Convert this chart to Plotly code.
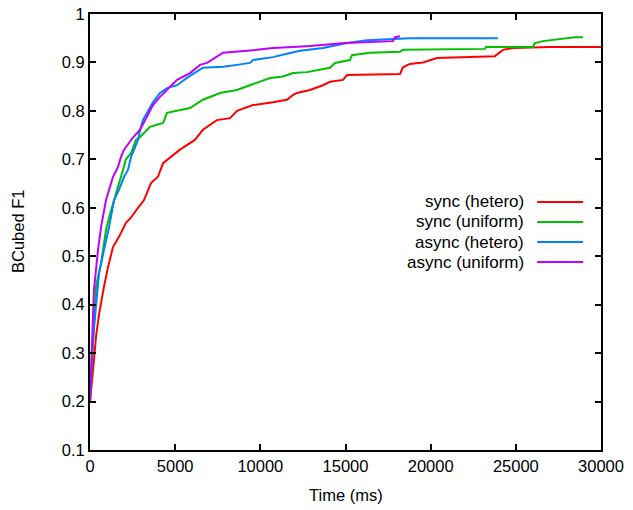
import plotly.graph_objects as go

# ---- data (time in ms, BCubed F1) ----
sync_hetero_t = [0, 60, 180, 350, 530, 820, 1060, 1350, 1700, 2110, 2410, 2820, 3170, 3580,
                 3990, 4290, 4700, 5280, 6160, 6630, 7450, 8220, 8630, 9570, 10740, 11560,
                 11920, 12150, 12910, 13680, 14090, 14850, 15090, 18200, 18370, 18780, 19550,
                 20370, 23770, 24070, 24240, 24830, 27000, 30000]
sync_hetero_f1 = [0.20, 0.22, 0.265, 0.333, 0.38, 0.437, 0.478, 0.519, 0.54, 0.569, 0.58, 0.60,
                  0.616, 0.651, 0.664, 0.692, 0.703, 0.72, 0.74, 0.761, 0.781, 0.785, 0.80,
                  0.812, 0.818, 0.823, 0.833, 0.837, 0.843, 0.853, 0.86, 0.864, 0.874, 0.876,
                  0.89, 0.897, 0.90, 0.909, 0.913, 0.922, 0.926, 0.93, 0.932, 0.932]

sync_uniform_t = [0, 180, 350, 650, 940, 1120, 1350, 1640, 1820, 2110, 2410, 2700, 2940, 3520,
                  4290, 4520, 5870, 6630, 7630, 8630, 9390, 9980, 10570, 11330, 11920, 12740,
                  14090, 14380, 15260, 15380, 16440, 18200, 18370, 23190, 23250, 26000, 26120,
                  26590, 28470, 28940]
sync_uniform_f1 = [0.20, 0.33, 0.437, 0.486, 0.554, 0.58, 0.61, 0.643, 0.664, 0.70, 0.713, 0.74,
                   0.746, 0.767, 0.775, 0.796, 0.806, 0.823, 0.837, 0.843, 0.853, 0.86, 0.868,
                   0.871, 0.878, 0.88, 0.889, 0.899, 0.905, 0.915, 0.92, 0.922, 0.926, 0.928,
                   0.932, 0.932, 0.94, 0.944, 0.952, 0.952]

async_hetero_t = [0, 120, 230, 410, 530, 820, 1120, 1410, 1700, 2000, 2230, 2410, 2580, 2820,
                  2940, 3110, 3350, 3700, 4110, 4520, 5110, 5690, 6630, 7810, 8630, 9390, 9570,
                  10740, 11560, 12330, 13680, 15090, 16260, 18200, 18780, 23950]
async_hetero_f1 = [0.20, 0.30, 0.35, 0.43, 0.465, 0.513, 0.56, 0.616, 0.637, 0.664, 0.678, 0.705,
                   0.72, 0.74, 0.761, 0.781, 0.796, 0.818, 0.837, 0.847, 0.853, 0.868, 0.889,
                   0.891, 0.895, 0.899, 0.905, 0.911, 0.918, 0.924, 0.93, 0.94, 0.946, 0.948,
                   0.95, 0.95]

async_uniform_t = [0, 60, 180, 230, 470, 650, 940, 1120, 1350, 1640, 1820, 2000, 2290, 2520,
                   2940, 3350, 3700, 4110, 4520, 5110, 5870, 6460, 6870, 7810, 9800, 10740,
                   11920, 12910, 14970, 16030, 17790, 17900, 18200]
async_uniform_f1 = [0.20, 0.26, 0.36, 0.43, 0.513, 0.56, 0.616, 0.637, 0.664, 0.684, 0.705, 0.72,
                    0.734, 0.745, 0.761, 0.788, 0.812, 0.829, 0.843, 0.864, 0.878, 0.895, 0.899,
                    0.92, 0.926, 0.93, 0.932, 0.934, 0.94, 0.942, 0.944, 0.952, 0.954]

series_names = ["sync (hetero)", "sync (uniform)", "async (hetero)", "async (uniform)"]
series_colors = ["#ff0000", "#00c000", "#0080ff", "#c000ff"]
series_t = [sync_hetero_t, sync_uniform_t, async_hetero_t, async_uniform_t]
series_f1 = [sync_hetero_f1, sync_uniform_f1, async_hetero_f1, async_uniform_f1]

x_ticks = [0, 5000, 10000, 15000, 20000, 25000, 30000]
y_ticks = [0.1, 0.2, 0.3, 0.4, 0.5, 0.6, 0.7, 0.8, 0.9, 1.0]
y_tick_labels = ["0.1", "0.2", "0.3", "0.4", "0.5", "0.6", "0.7", "0.8", "0.9", "1"]

FONT = "Liberation Sans, Arial, Helvetica, sans-serif"
FS = 16.5

fig = go.Figure()
for name, color, t, f1 in zip(series_names, series_colors, series_t, series_f1):
    fig.add_trace(go.Scatter(x=t, y=f1, mode="lines", name=name,
                             line=dict(color=color, width=2, shape="linear"),
                             showlegend=False))

# gnuplot-style legend: text right-aligned, sample line to its right
legend_rows_y = [0.569, 0.523, 0.477, 0.431]
for name, color, yy in zip(series_names, series_colors, legend_rows_y):
    fig.add_annotation(xref="paper", yref="paper", x=0.853, y=yy, text=name,
                       showarrow=False, xanchor="right", yanchor="middle",
                       font=dict(family=FONT, size=17, color="#000"))
    fig.add_shape(type="line", xref="paper", yref="paper", x0=0.875, x1=0.965,
                  y0=yy, y1=yy, line=dict(color=color, width=2))

axis_common = dict(showgrid=False, zeroline=False, showline=True, linecolor="#000",
                   linewidth=2, mirror="allticks", ticks="inside", ticklen=6,
                   tickwidth=2, tickcolor="#000", automargin=False,
                   ticklabeloverflow="allow",
                   tickfont=dict(family=FONT, size=FS, color="#000"))

fig.update_xaxes(range=[0, 30000], tickvals=x_ticks,
                 ticktext=[str(v) for v in x_ticks], **axis_common)
fig.update_yaxes(range=[0.1, 1.0], tickvals=y_ticks, ticktext=y_tick_labels,
                 **axis_common)

fig.add_annotation(xref="paper", yref="paper", x=0.5, y=0, yshift=-45,
                   text="Time (ms)", showarrow=False, xanchor="center", yanchor="middle",
                   font=dict(family=FONT, size=FS, color="#000"))
fig.add_annotation(xref="paper", yref="paper", x=0, y=0.5, xshift=-72,
                   text="BCubed F1", showarrow=False, textangle=-90,
                   xanchor="center", yanchor="middle",
                   font=dict(family=FONT, size=FS, color="#000"))

fig.update_layout(width=633, height=510, margin=dict(l=90, r=32, t=14, b=60),
                  paper_bgcolor="#fff", plot_bgcolor="#fff",
                  font=dict(family=FONT, size=FS, color="#000"))

# remove the default page margin so the figure sits at the window's corner
fig.write_html("out.html", config={"displayModeBar": False},
               post_script="document.body.style.margin='0';")
